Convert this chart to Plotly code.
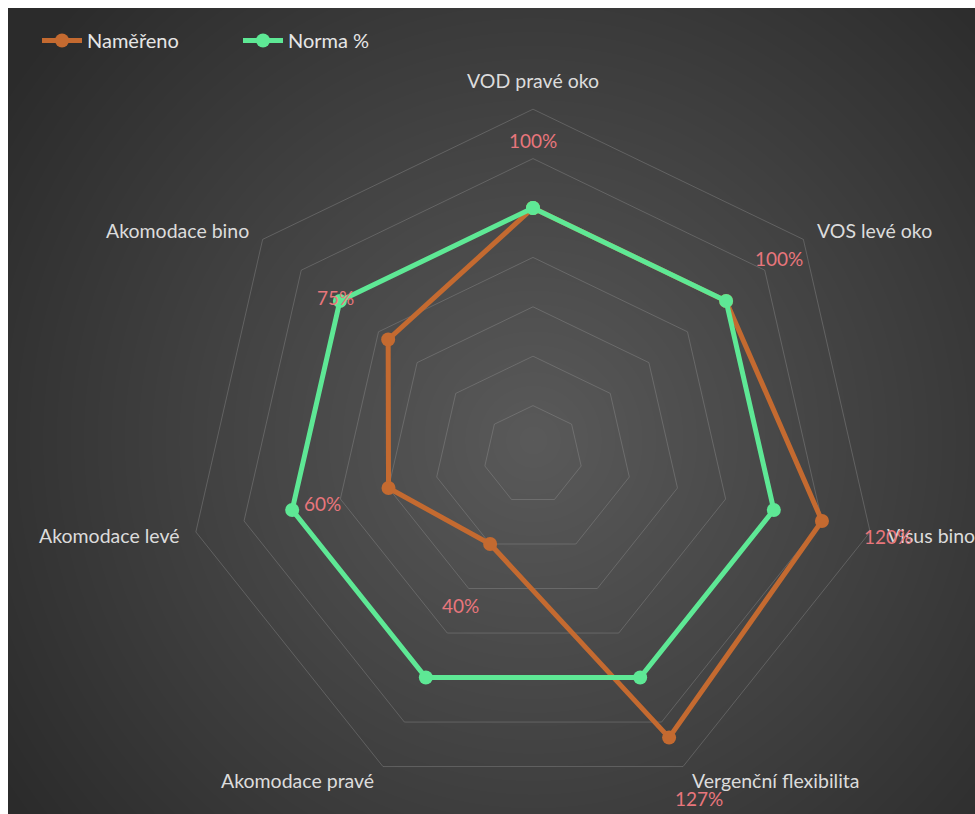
import base64
import math
import struct
import zlib

import numpy as np
import plotly.graph_objects as go

# ---------------- data ----------------
categories = [
    "VOD pravé oko",
    "VOS levé oko",
    "Visus bino",
    "Vergenční flexibilita",
    "Akomodace pravé",
    "Akomodace levé",
    "Akomodace bino",
]
namereno = [100, 100, 120, 127, 40, 60, 75]
norma = [100, 100, 100, 100, 100, 100, 100]
label_texts = ["100%", "100%", "120%", "127%", "40%", "60%", "75%"]

# ---------------- styles ----------------
W, H = 975, 814
ORANGE = "#C46A30"
GREEN = "#5EE895"
LABEL_RED = "#E8767C"
TEXT = "#DCDCDC"
GRID = "rgba(150,150,150,0.38)"
FONT = "Lato, 'Open Sans', sans-serif"
R_MAX = 140
LABEL_OFFSET = 27.5  # radial offset of data labels (axis units)
CAT_PAD = 15  # px beyond the outer ring for category labels
cx, cy, R = 533, 455, 345.8  # polar centre / radius in pixels


# ---------------- radial gradient background (PNG data URI) ----------------
def gradient_png(w, h, gx, gy, radius, c_in, c_out):
    yy, xx = np.mgrid[0:h, 0:w]
    d = np.sqrt((xx - gx) ** 2 + (yy - gy) ** 2) / radius
    d = np.clip(d, 0, 1)
    g = (c_in + (c_out - c_in) * d).astype(np.uint8)
    raw = b"".join(b"\x00" + g[i].tobytes() for i in range(h))

    def chunk(tag, data):
        c = struct.pack(">I", len(data)) + tag + data
        return c + struct.pack(">I", zlib.crc32(tag + data) & 0xFFFFFFFF)

    png = b"\x89PNG\r\n\x1a\n"
    png += chunk(b"IHDR", struct.pack(">IIBBBBB", w, h, 8, 0, 0, 0, 0))
    png += chunk(b"IDAT", zlib.compress(raw, 9))
    png += chunk(b"IEND", b"")
    return "data:image/png;base64," + base64.b64encode(png).decode()


BX, BY = 8, 8
bw, bh = W - BX, H - BY
bg = gradient_png(bw, bh, 533 - BX, 440 - BY, 640, 90, 43)

# ---------------- figure ----------------
fig = go.Figure()

fig.add_trace(
    go.Scatterpolar(
        r=namereno + [namereno[0]],
        theta=categories + [categories[0]],
        mode="lines+markers",
        name="Naměřeno",
        line=dict(color=ORANGE, width=5),
        marker=dict(color=ORANGE, size=14),
    )
)
fig.add_trace(
    go.Scatterpolar(
        r=norma + [norma[0]],
        theta=categories + [categories[0]],
        mode="lines+markers",
        name="Norma %",
        line=dict(color=GREEN, width=5),
        marker=dict(color=GREEN, size=14),
    )
)

annotations = []
n = len(categories)


def to_paper(r_px, ang):
    return (cx + r_px * math.cos(ang)) / W, 1 - (cy - r_px * math.sin(ang)) / H


# category labels just outside the outer ring
for i, cat in enumerate(categories):
    ang = math.radians(90 - i * 360 / n)
    x, y = to_paper(R + CAT_PAD, ang)
    c, s = math.cos(ang), math.sin(ang)
    xa = "left" if c > 0.1 else ("right" if c < -0.1 else "center")
    ya = "bottom" if s > 0.9 else "middle"
    annotations.append(
        dict(
            x=x, y=y, xref="paper", yref="paper", text=cat, showarrow=False,
            xanchor=xa, yanchor=ya,
            font=dict(color=TEXT, size=19.5, family=FONT),
        )
    )

# data labels for "Naměřeno", pushed outward along each category's spoke
for i, (v, t) in enumerate(zip(namereno, label_texts)):
    ang = math.radians(90 - i * 360 / n)
    x, y = to_paper((v + LABEL_OFFSET) * R / R_MAX, ang)
    annotations.append(
        dict(
            x=x, y=y, xref="paper", yref="paper", text=t, showarrow=False,
            xanchor="center", yanchor="middle",
            font=dict(color=LABEL_RED, size=19, family=FONT),
        )
    )

fig.update_layout(
    width=W,
    height=H,
    margin=dict(l=0, r=0, t=0, b=0),
    paper_bgcolor="white",
    font=dict(family=FONT, color=TEXT, size=19),
    annotations=annotations,
    images=[
        dict(
            source=bg,
            xref="paper",
            yref="paper",
            x=BX / W,
            y=1 - BY / H,
            sizex=bw / W,
            sizey=bh / H,
            xanchor="left",
            yanchor="top",
            sizing="stretch",
            layer="below",
        )
    ],
    polar=dict(
        domain=dict(
            x=[(cx - R) / W, (cx + R) / W],
            y=[(H - cy - R) / H, (H - cy + R) / H],
        ),
        bgcolor="rgba(0,0,0,0)",
        gridshape="linear",
        radialaxis=dict(
            range=[0, R_MAX],
            dtick=20,
            showticklabels=False,
            ticks="",
            showline=False,
            gridcolor=GRID,
            gridwidth=1,
        ),
        angularaxis=dict(
            rotation=90,
            direction="clockwise",
            showgrid=False,
            showline=True,
            linecolor=GRID,
            linewidth=1,
            ticks="",
            showticklabels=False,
        ),
    ),
    legend=dict(
        orientation="h",
        x=37 / W,
        y=1 - 21 / H,
        xanchor="left",
        yanchor="top",
        font=dict(color="#E6E6E6", size=20, family=FONT),
        bgcolor="rgba(0,0,0,0)",
        itemwidth=40,
        entrywidth=146,
        entrywidthmode="pixels",
        tracegroupgap=0,
    ),
    showlegend=True,
)

fig.write_html("out.html")
